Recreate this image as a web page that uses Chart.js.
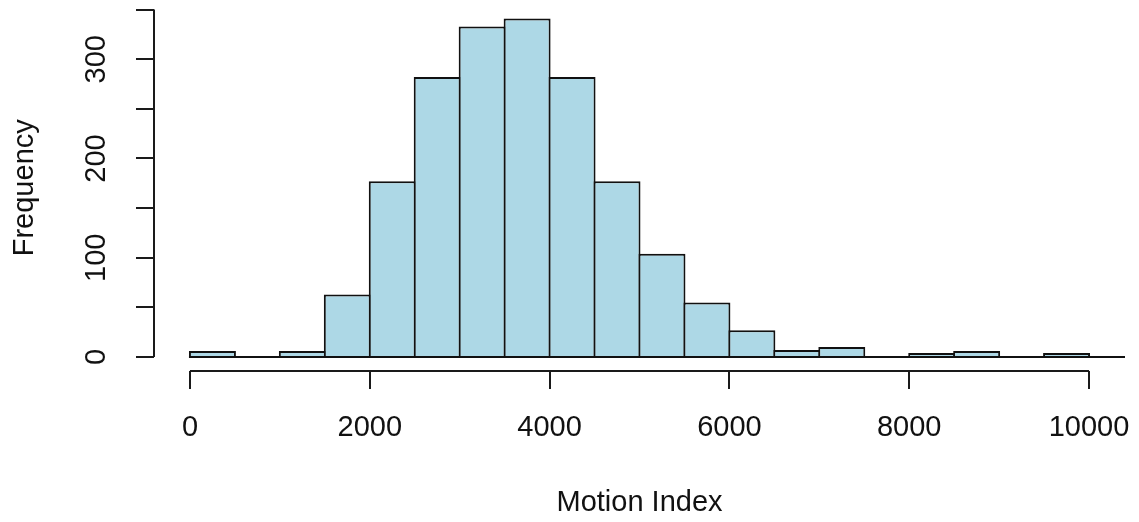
<!DOCTYPE html>
<html>
<head>
<meta charset="utf-8">
<script src="https://cdn.jsdelivr.net/npm/chart.js@4/dist/chart.umd.min.js"></script>
<style>
    html, body { margin: 0; padding: 0; background: #fff; }
    #wrap { width: 1139px; height: 522px; }
</style>
</head>
<body>
<div id="wrap"><canvas id="histChart" width="1139" height="522"></canvas></div>
<script>
// histogram bins (left edge of each 500-wide bin) and counts
const binStarts = [0, 500, 1000, 1500, 2000, 2500, 3000, 3500, 4000, 4500, 5000,
    5500, 6000, 6500, 7000, 7500, 8000, 8500, 9000, 9500, 10000];
const counts = [6, 0, 6, 63, 177, 282, 333, 341, 282, 177, 104,
    55, 27, 7, 10, 1, 4, 6, 1, 4, 1];
const binWidth = 500;

const xTicks = [0, 2000, 4000, 6000, 8000, 10000];
const yTicks = [0, 50, 100, 150, 200, 250, 300, 350];
const yLabels = [0, 100, 200, 300];

const xTitle = 'Motion Index';
const yTitle = 'Frequency';

const FONT = '29px "Liberation Sans", Arial, sans-serif';
const INK = '#111';

// R-style axes, drawn apart from the plot region
const rAxes = {
    id: 'rAxes',
    afterDatasetsDraw(chart) {
        // bottom edges of the bars (zero-height bins still show as a line in R)
        const c = chart.ctx;
        const area = chart.chartArea;
        const xs = chart.scales.x;
        const ys = chart.scales.y;
        const last = binStarts[binStarts.length - 1] + binWidth;
        c.save();
        c.beginPath();
        c.rect(area.left, area.top, area.right - area.left, area.bottom - area.top + 2);
        c.clip();
        c.strokeStyle = INK;
        c.lineWidth = 2;
        c.beginPath();
        const y0 = Math.round(ys.getPixelForValue(0));
        c.moveTo(xs.getPixelForValue(binStarts[0]) - 1, y0);
        c.lineTo(xs.getPixelForValue(last), y0);
        c.stroke();
        c.restore();
    },
    afterDraw(chart) {
        const c = chart.ctx;
        const area = chart.chartArea;
        const xs = chart.scales.x;
        const ys = chart.scales.y;
        const tick = 18;

        c.save();
        c.strokeStyle = '#1a1a1a';
        c.lineWidth = 2;
        c.fillStyle = INK;
        c.font = FONT;

        // x axis
        const yAx = Math.round(area.bottom);
        c.beginPath();
        c.moveTo(xs.getPixelForValue(xTicks[0]), yAx);
        c.lineTo(xs.getPixelForValue(xTicks[xTicks.length - 1]), yAx);
        xTicks.forEach(v => {
            const px = Math.round(xs.getPixelForValue(v));
            c.moveTo(px, yAx);
            c.lineTo(px, yAx + tick);
        });
        c.stroke();
        c.textAlign = 'center';
        c.textBaseline = 'middle';
        xTicks.forEach(v => c.fillText(String(v), xs.getPixelForValue(v), yAx + 57));

        // y axis
        const xAx = Math.round(area.left);
        c.beginPath();
        c.moveTo(xAx, ys.getPixelForValue(yTicks[0]));
        c.lineTo(xAx, ys.getPixelForValue(yTicks[yTicks.length - 1]));
        yTicks.forEach(v => {
            const py = Math.round(ys.getPixelForValue(v));
            c.moveTo(xAx, py);
            c.lineTo(xAx - tick, py);
        });
        c.stroke();
        yLabels.forEach(v => {
            c.save();
            c.translate(xAx - 57, ys.getPixelForValue(v));
            c.rotate(-Math.PI / 2);
            c.fillText(String(v), 0, 0);
            c.restore();
        });

        // titles
        c.fillText(xTitle, (area.left + area.right) / 2, 503);
        c.save();
        c.translate(25, (area.top + area.bottom) / 2);
        c.rotate(-Math.PI / 2);
        c.fillText(yTitle, 0, 0);
        c.restore();

        c.restore();
    }
};

const ctx = document.getElementById('histChart').getContext('2d');
new Chart(ctx, {
    type: 'bar',
    data: {
        datasets: [{
            data: binStarts.map((s, i) => ({ x: s + binWidth / 2, y: counts[i] })),
            backgroundColor: '#add8e6',
            borderColor: INK,
            // bottom edge comes from the baseline drawn in the plugin
            borderWidth: { top: 2, left: 2, right: 2, bottom: 0 },
            borderSkipped: false,
            // a touch wider than the bin so neighbouring outlines overlap into one 2px line
            barPercentage: 1.045,
            categoryPercentage: 1
        }]
    },
    options: {
        responsive: false,
        animation: false,
        events: [],
        layout: { padding: { left: 154, right: 14, top: 5, bottom: 151.5 } },
        plugins: {
            legend: { display: false },
            tooltip: { enabled: false }
        },
        scales: {
            x: {
                type: 'linear',
                offset: false,
                min: -400,
                max: 10400,
                display: false
            },
            y: {
                min: -13.64,
                max: 354.64,
                display: false
            }
        }
    },
    plugins: [rAxes]
});
</script>
</body>
</html>
